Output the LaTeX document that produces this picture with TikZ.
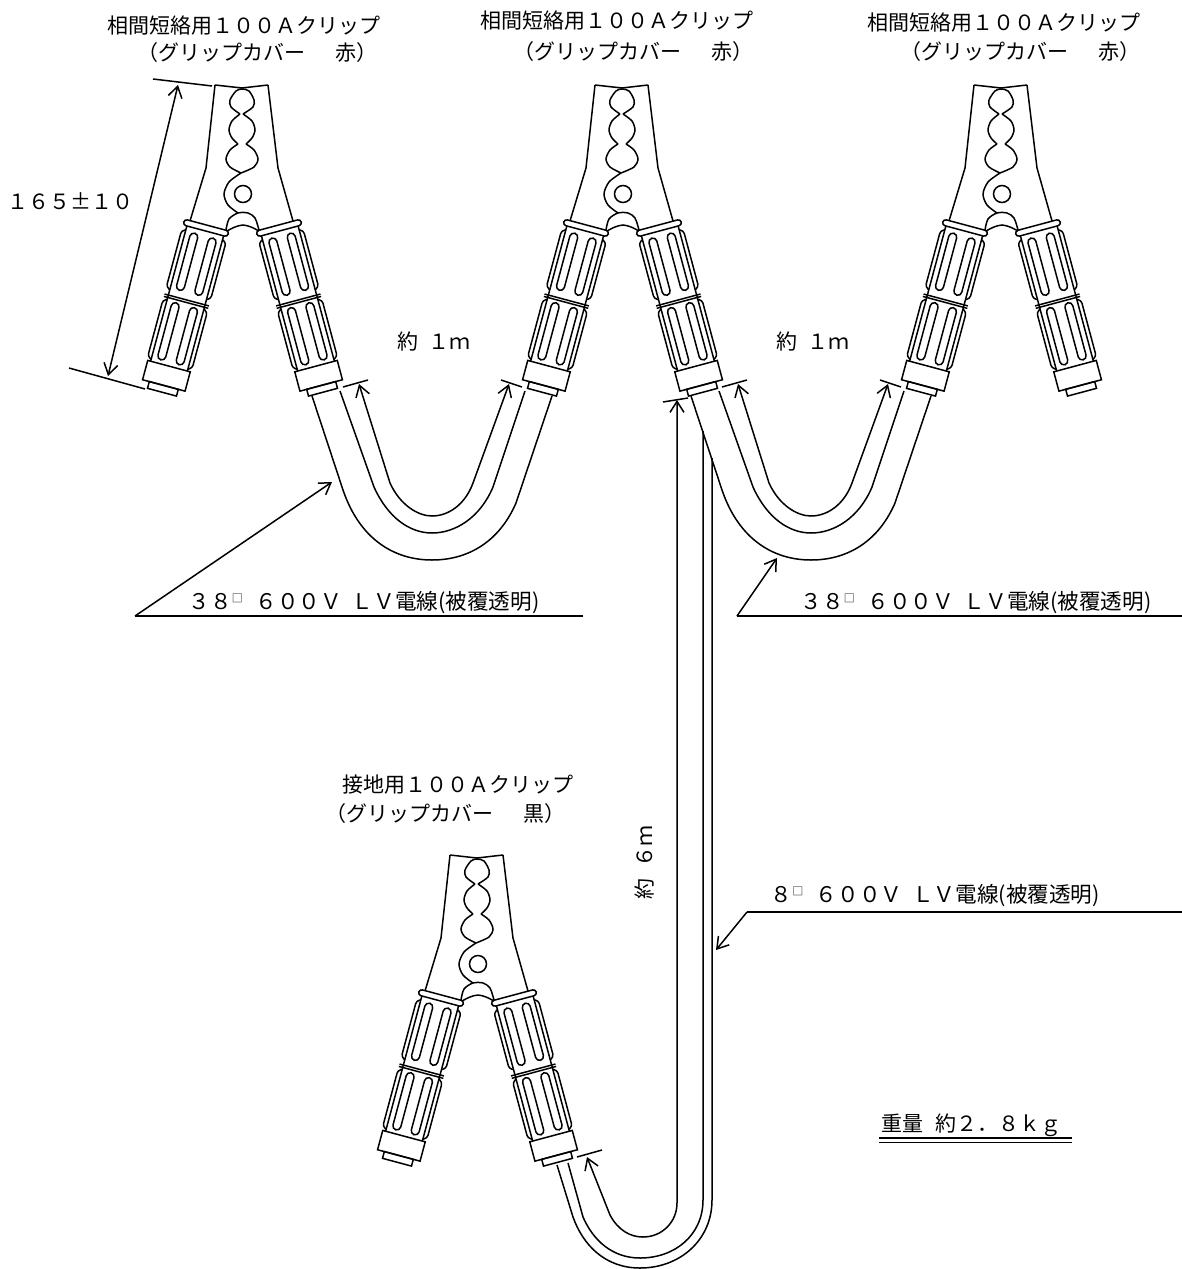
\documentclass[tikz,border=0pt]{standalone}
\usepackage{fontspec}
\newfontfamily\cjk{Noto Sans CJK JP}
\usetikzlibrary{positioning, arrows.meta}
\newcommand{\sqmark}{\makebox[23.6pt][l]{\raisebox{7pt}{\fontsize{11}{11}\selectfont □}}}
\tikzset{
	x=1pt, y=-1pt,
	>={Straight Barb[length=11pt,width=14pt]},
	every path/.style= {
		line width=1.5pt
	},
	jptext/.style= {
		inner sep=0pt,
		anchor=west,
		font=\cjk\fontsize{21}{21}\selectfont
	},
	wirelabel/.style= {
		jptext,
		font=\cjk\fontsize{21.6}{21.6}\selectfont
	},
	grip/.pic= {
		% collar, body, cap and stub
		\draw[rounded corners=3pt] (-23,-3) rectangle (23,3);
		\draw (-19,3) -- (-19,143);
		\draw (19,3) -- (19,143);
		\draw (-23,74.5) -- (23,74.5);
		\draw (-23,77) -- (23,77);
		\draw (-22,143) rectangle (22,163);
		\draw (-15,163) rectangle (15,170);
		\foreach \u in {-1,1}
		{
			\foreach \v in {7,79}
			{
				\draw[rounded corners=3pt] (\u*19,\v) -- (\u*23,\v+2) -- (\u*23,\v+60) -- (\u*19,\v+62);
				\draw[rounded corners=4pt] (\u*9.5-4,\v+1) rectangle (\u*9.5+4,\v+60);
			}
		}
	},
	clamp/.pic= {
		% jaws
		\draw (-28,-109) -- (-1,-106) -- (25,-109);
		\draw (-28,-109) -- (-37,-26) -- (-53,27);
		\draw (25,-109) -- (35,-26) -- (50,27);
		% toothed slot
		\draw plot[smooth] coordinates {(-3,-80) (-12,-87) (-13,-94) (-7,-103) (-1,-105) (6,-103) (11,-94) (10,-87) (0,-80)};
		\draw plot[smooth] coordinates {(-3,-80) (-11,-73) (-14,-64) (-11,-56) (-5,-50)};
		\draw plot[smooth] coordinates {(0,-80) (9,-73) (12,-64) (9,-56) (3,-50)};
		\draw plot[smooth] coordinates {(-5,-50) (-13,-44) (-17,-35) (-13,-27) (-2,-21)};
		\draw plot[smooth] coordinates {(3,-50) (11,-44) (15,-35) (11,-27) (-2,-21)};
		\draw plot[smooth] coordinates {(-2,-21) (-14,-12) (-19,0) (-15,11) (-5,19)};
		\draw (0,0) circle (8.5);
		% nub between the grips
		\draw plot[smooth] coordinates {(-17,36) (-14,25) (-5,19) (5,19) (12,24) (16,36)};
		\draw plot[smooth] coordinates {(-16,37) (-8,33) (0,31) (8,33) (16,37)};
		% grips
		\pic[rotate=-15] at (-37,34) {grip};
		\pic[rotate=15] at (36,34) {grip};
	}
}

\begin{document}
\begin{tikzpicture}
	\useasboundingbox (0,0) rectangle (1182,1269);

	% the three phase clamps
	\foreach[count=\i from 1] \hx/\tx/\ty/\cx/\cy in {243/107/26/137/53, 623/480/21/513/52, 1002/867/23/900/52}
	{
		\pic (clamp\i) at (\hx,194) {clamp};
		\node (title\i)[jptext] at (\tx,\ty) {相間短絡用１００Ａクリップ};
		\node (cover\i)[jptext] at (\cx,\cy) {（グリップカバー　\hspace{9pt}赤）};
	}

	% earth clamp
	\pic (clamp4) at (478,964) {clamp};
	\node (title4)[jptext] at (342,785) {接地用１００Ａクリップ};
	\node (cover4)[jptext] at (325,814) {（グリップカバー　\hspace{9pt}黒）};

	% 38 sq wires and their length arrows
	\foreach[count=\i from 1] \dx in {0,379}
	{
		\begin{scope}[xshift=\dx]
			\draw (312,396) -- (343,490) .. controls (360,540) and (395,560) .. (432,560) .. controls (470,560) and (500,540) .. (516,503) -- (552,396);
			\draw (340,391) -- (374,487) .. controls (388,518) and (410,533) .. (432,533) .. controls (455,533) and (480,518) .. (493,487) -- (525,391);
			\coordinate (tickA\i) at (343,387);
			\coordinate (tickB\i) at (368,380);
			\coordinate (tickC\i) at (501,380);
			\coordinate (tickD\i) at (522,387);
			\draw (tickA\i) -- (tickB\i);
			\draw (tickC\i) -- (tickD\i);
			\draw[<->] (359,384) -- (390,483) .. controls (400,505) and (418,516) .. (432,516) .. controls (448,516) and (465,505) .. (473,483) -- (509,384);
			\node (onem\i)[jptext] at (397,342) {約\hspace{10pt}１ｍ};
		\end{scope}
	}

	% 8 sq wire
	\draw (703,431) -- (703,1200) .. controls (703,1235) and (675,1258) .. (640,1258) .. controls (612,1258) and (593,1240) .. (583,1217) -- (568,1163);
	\draw (712,458) -- (712,1200) .. controls (712,1240) and (680,1268) .. (640,1268) .. controls (605,1268) and (583,1245) .. (573,1217) -- (557,1165);
	\draw (577,1157) -- (602,1150);
	\draw (663,402) -- (688,398);
	\draw[<->] (587,1157) -- (610,1215) .. controls (618,1230) and (630,1237) .. (643,1237) .. controls (662,1237) and (677,1222) .. (677,1203) -- (677,400);
	\node (sixm)[jptext, rotate=90] at (645,900) {約\hspace{11pt}６ｍ};

	% overall size of the clamp
	\draw (153,79) -- (212,86);
	\draw (69,368) -- (145,389);
	\draw[<->] (178,85) -- (108,376);
	\node (size)[jptext] at (7,201) {１６５±１０};

	% leaders
	\coordinate (leadA) at (135,616);
	\coordinate (leadB) at (737,616);
	\coordinate (leadC) at (747,912);
	\draw (583,616) -- (leadA);
	\draw[->] (leadA) -- (332,482);
	\draw (1182,616) -- (leadB);
	\draw[->] (leadB) -- (777,558);
	\draw (1182,912) -- (leadC);
	\draw[->] (leadC) -- (716,950);
	\node (wireA)[wirelabel] at (188,603) {３８\sqmark ６００Ｖ\hspace{10pt}ＬＶ電線(被覆透明)};
	\node (wireB)[wirelabel] at (800,603) {３８\sqmark ６００Ｖ\hspace{10pt}ＬＶ電線(被覆透明)};
	\node (wireC)[wirelabel] at (770,896) {８\sqmark ６００Ｖ\hspace{10pt}ＬＶ電線(被覆透明)};

	% weight
	\node (weight)[jptext] at (881,1125) {重量\hspace{12pt}約２．８ｋｇ};
	\draw (879,1138) -- (1072,1138);
	\draw (879,1142.5) -- (1072,1142.5);

\end{tikzpicture}
\end{document}
